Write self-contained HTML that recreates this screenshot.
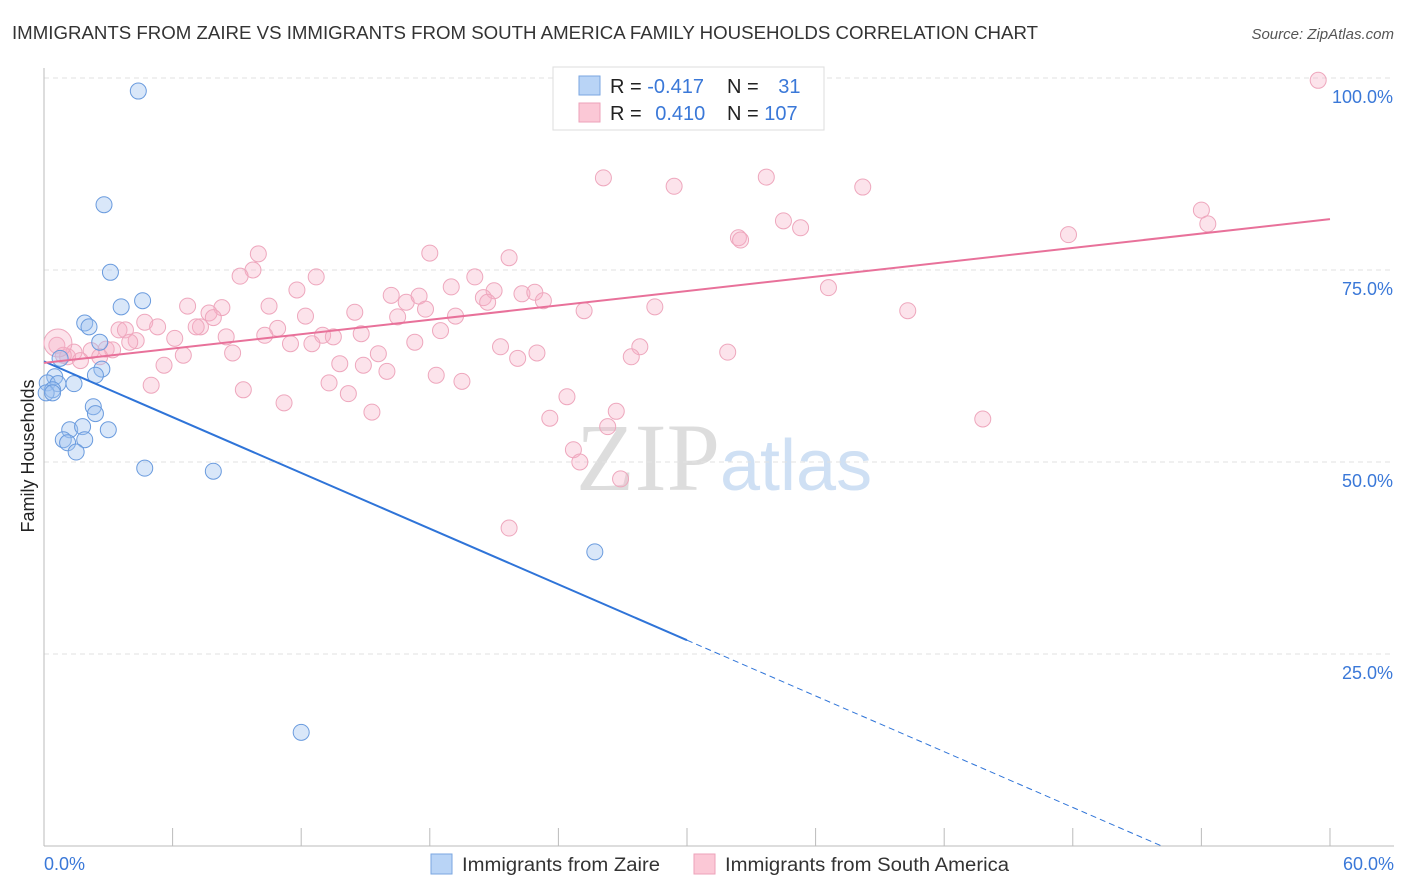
<!DOCTYPE html>
<html><head><meta charset="utf-8"><style>
body{margin:0;background:#fff;font-family:"Liberation Sans",sans-serif}
svg{display:block}
</style></head><body>
<svg id="chart" width="1406" height="892">
<text x="12" y="39" font-size="18" fill="#333" textLength="1026" lengthAdjust="spacingAndGlyphs">IMMIGRANTS FROM ZAIRE VS IMMIGRANTS FROM SOUTH AMERICA FAMILY HOUSEHOLDS CORRELATION CHART</text>
<text x="1394" y="39" font-size="15" fill="#555" font-style="italic" text-anchor="end">Source: ZipAtlas.com</text>
<text x="720" y="490" font-size="96" font-family="Liberation Serif,serif" fill="#ddd" text-anchor="end">ZIP</text>
<text x="720" y="490" font-size="72" fill="#cfe0f4">atlas</text>
<g id="grid"></g>
<g id="axes"></g>
<g id="marks"></g>
<text transform="translate(34,456) rotate(-90)" font-size="18" fill="#222" text-anchor="middle">Family Households</text>
<g>
<rect x="553" y="67" width="271" height="63" fill="#fff" stroke="#ddd"/>
<rect x="579" y="76" width="21" height="19" fill="#b9d4f6" stroke="#7aa6e0"/>
<rect x="579" y="103" width="21" height="19" fill="#fbc8d6" stroke="#eca2b9"/>
<text x="610" y="93" font-size="20" fill="#222">R = <tspan fill="#3a78d8">-0.417</tspan></text>
<text x="727" y="93" font-size="20" fill="#222">N = <tspan fill="#3a78d8" dx="14">31</tspan></text>
<text x="610" y="120" font-size="20" fill="#222">R = <tspan fill="#3a78d8" dx="8">0.410</tspan></text>
<text x="727" y="120" font-size="20" fill="#222">N = <tspan fill="#3a78d8">107</tspan></text>
</g>
<g>
<rect x="431" y="854" width="21" height="20" fill="#b9d4f6" stroke="#7aa6e0"/>
<text x="462" y="871" font-size="19" fill="#333" textLength="198" lengthAdjust="spacingAndGlyphs">Immigrants from Zaire</text>
<rect x="694" y="854" width="21" height="20" fill="#fbc8d6" stroke="#eca2b9"/>
<text x="725" y="871" font-size="19" fill="#333" textLength="284" lengthAdjust="spacingAndGlyphs">Immigrants from South America</text>
</g>
</svg>
<script>
const yTicks=[25,50,75,100];
const yTickLabels=["25.0%","50.0%","75.0%","100.0%"];
const xTickValues=[6,12,18,24,30,36,42,48,54,60];
const zaireX=[4.4,2.8,3.1,4.6,3.6,1.9,2.1,2.6,0.75,2.7,2.4,0.5,0.15,0.65,1.4,0.4,0.1,0.4,2.3,2.4,3.0,1.2,1.8,0.9,1.1,1.9,1.5,4.7,7.9,25.7,12.0];
const zaireY=[98.3,83.5,74.7,71.0,70.2,68.1,67.6,65.6,63.5,62.1,61.3,61.1,60.3,60.2,60.2,59.4,59.0,59.0,57.2,56.3,54.2,54.2,54.6,52.9,52.5,52.9,51.3,49.2,48.8,38.3,14.8];
const saX=[27.25,59.45,26.1,29.4,33.7,38.2,34.5,35.3,32.4,32.5,54.0,54.3,47.8,18.0,10.0,21.7,9.75,9.15,12.7,20.1,11.8,19.0,21.0,22.3,22.9,16.2,20.5,20.7,23.3,16.9,17.5,36.6,28.5,25.2,40.3,10.5,6.7,8.3,7.7,7.9,14.5,12.2,16.5,17.8,19.2,4.7,7.3,7.1,10.9,5.3,3.5,3.8,18.5,13.0,13.5,14.8,8.5,10.3,6.1,4.3,4.0,11.5,12.5,17.3,21.3,27.8,2.9,2.2,3.2,6.5,8.8,31.9,23.0,22.1,27.4,2.6,1.1,1.4,0.6,0.9,1.7,5.6,15.6,13.8,14.9,16.0,18.3,19.5,13.3,5.0,9.3,14.2,24.4,11.2,15.3,26.7,23.6,43.8,26.3,24.7,25.0,26.9,21.7,0.65];
const saY=[99.9,99.7,87.0,85.9,87.1,85.8,81.4,80.5,79.2,78.9,82.8,81.0,79.6,77.2,77.1,76.6,75.0,74.2,74.1,74.1,72.4,72.8,72.3,71.9,72.1,71.7,71.4,70.8,71.0,70.8,71.6,72.7,70.2,69.7,69.7,70.3,70.3,70.1,69.4,68.8,69.5,69.0,68.9,69.9,69.0,68.2,67.6,67.6,67.4,67.6,67.2,67.2,67.1,66.5,66.3,66.7,66.3,66.5,66.1,65.8,65.6,65.4,65.4,65.6,65.0,65.0,64.7,64.5,64.6,63.9,64.2,64.3,64.2,63.5,63.7,63.7,63.7,64.3,65.2,63.9,63.2,62.6,64.1,62.8,62.6,61.8,61.3,60.5,60.3,60.0,59.4,58.9,58.5,57.7,56.5,56.6,55.7,55.6,54.6,51.6,50.0,47.8,41.4,65.5];
const zaireTrend=[63.1,-1.21];
const saTrend=[62.9,0.312];

const NS="http://www.w3.org/2000/svg";
const X=v=>44+v*21.433, Y=v=>846-v*7.68;
function mk(tag,attrs,parent){const e=document.createElementNS(NS,tag);for(const k in attrs)e.setAttribute(k,attrs[k]);parent.appendChild(e);return e;}
const grid=document.getElementById('grid'),axes=document.getElementById('axes'),marks=document.getElementById('marks');
yTicks.forEach((t,i)=>{
 const l=mk('line',{x1:44,x2:1394,y1:Y(t),y2:Y(t),stroke:'#e2e2e2','stroke-dasharray':'5,4'},grid);
 
 
 const tx=mk('text',{x:1393,y:Y(t)+25,'font-size':18,fill:'#3a78d8','text-anchor':'end'},axes);
 tx.textContent=yTickLabels[i];
 
 
});
const ax=mk('line',{x1:44,x2:1394,y1:846,y2:846,stroke:'#bbb'},axes);


const ay=mk('line',{x1:44,x2:44,y1:68,y2:846,stroke:'#bbb'},axes);


xTickValues.forEach(t=>{
 const l=mk('line',{x1:X(t),x2:X(t),y1:828,y2:846,stroke:'#bbb'},axes);
 
 
});
const t0=mk('text',{x:44,y:870,'font-size':18,fill:'#3a78d8'},axes);t0.textContent='0.0%';


const t1=mk('text',{x:1394,y:870,'font-size':18,fill:'#3a78d8','text-anchor':'end'},axes);t1.textContent='60.0%';



saX.forEach((x,i)=>{
 const big=i===saX.length-1;
 const c=mk('circle',{cx:X(x),cy:Y(saY[i]),r:big?14:8,fill:'rgba(246,176,198,0.35)',stroke:'#eea7bd','stroke-width':1},marks);
 
 
});
zaireX.forEach((x,i)=>{
 const c=mk('circle',{cx:X(x),cy:Y(zaireY[i]),r:8,fill:'rgba(160,196,240,0.4)',stroke:'#6a9bde','stroke-width':1},marks);
 
 
});
const zy=x=>zaireTrend[0]+zaireTrend[1]*x;
const zEnd=-zaireTrend[0]/zaireTrend[1];
const bl=mk('line',{x1:X(0),y1:Y(zy(0)),x2:X(30),y2:Y(zy(30)),stroke:'#2f74d8','stroke-width':2},marks);


const bd=mk('line',{x1:X(30),y1:Y(zy(30)),x2:X(zEnd),y2:Y(0),stroke:'#2f74d8','stroke-width':1,'stroke-dasharray':'6,4'},marks);


const sy=x=>saTrend[0]+saTrend[1]*x;
const pl=mk('line',{x1:X(0),y1:Y(sy(0)),x2:X(60),y2:Y(sy(60)),stroke:'#e8719a','stroke-width':2},marks);


</script>
</body></html>
